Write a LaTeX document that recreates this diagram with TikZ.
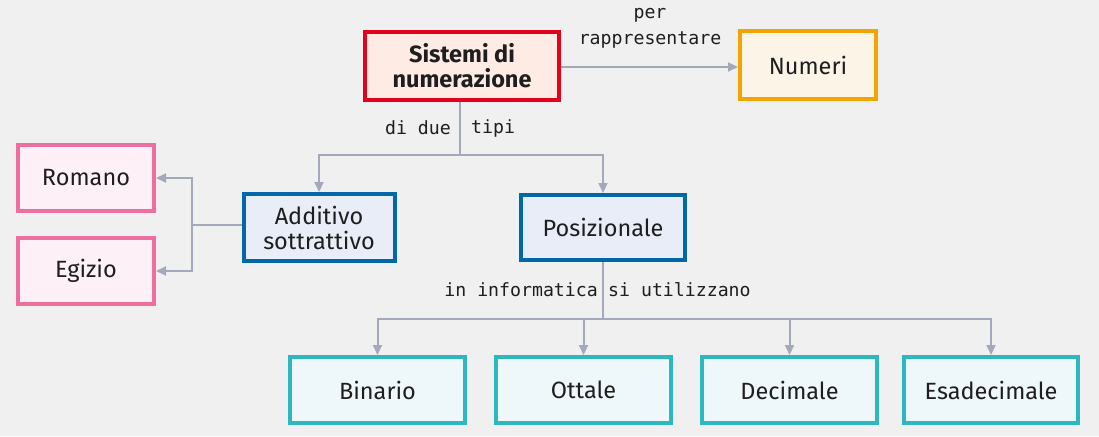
\documentclass[tikz,border=0pt]{standalone}
\usepackage{fontspec}
\setmainfont{Fira Sans}
\newfontfamily\lblfont{DejaVu Sans Mono}
\usetikzlibrary{arrows.meta}
\definecolor{bgc}{HTML}{F0F0F0}
\definecolor{redb}{HTML}{E3001B}\definecolor{redf}{HTML}{FDEBE4}
\definecolor{orab}{HTML}{F2A400}\definecolor{oraf}{HTML}{FDF4E8}
\definecolor{pinkb}{HTML}{EE6EA0}\definecolor{pinkf}{HTML}{FDF0F6}
\definecolor{blueb}{HTML}{0068A8}\definecolor{bluef}{HTML}{E8EDF8}
\definecolor{tealb}{HTML}{2CB7C1}\definecolor{tealf}{HTML}{EEF7F9}
\definecolor{connc}{HTML}{A3A9BA}
\definecolor{txtc}{HTML}{1E1E1E}
\tikzset{
  box/.style={draw, line width=4pt, align=center, text=txtc, font=\fontsize{23.5}{25}\selectfont, inner sep=0pt},
  redbox/.style={box, draw=redb, fill=redf, font=\fontsize{23.5}{25}\selectfont\bfseries},
  orabox/.style={box, draw=orab, fill=oraf},
  pinkbox/.style={box, draw=pinkb, fill=pinkf},
  bluebox/.style={box, draw=blueb, fill=bluef},
  tealbox/.style={box, draw=tealb, fill=tealf},
  conn/.style={draw=connc, line width=2pt},
  arr/.style={conn, -{Triangle[length=10pt,width=9pt]}},
  lbl/.style={text=txtc, font=\lblfont\fontsize{18.2}{20}\selectfont, inner sep=0pt}
}
\begin{document}
\begin{tikzpicture}[x=1pt,y=-1pt]
\fill[bgc] (0,0) rectangle (1099,436);
\useasboundingbox (0,0) rectangle (1099,436);

\node[redbox, minimum width=194pt, minimum height=67pt] (sist) at (462,66) {Sistemi di\\numerazione};
\node[orabox, minimum width=136pt, minimum height=68pt] (num) at (808,65) {Numeri};
\node[pinkbox, minimum width=136pt, minimum height=66pt] (rom) at (86,178) {Romano};
\node[pinkbox, minimum width=136pt, minimum height=66pt] (egi) at (86,271) {Egizio};
\node[bluebox, minimum width=151pt, minimum height=67pt] (add) at (319,227.5) {Additivo\\sottrattivo};
\node[bluebox, minimum width=164pt, minimum height=65pt] (pos) at (603,227.5) {Posizionale};
\node[tealbox, minimum width=175pt, minimum height=66pt] (bin) at (377.5,390) {Binario};
\node[tealbox, minimum width=175pt, minimum height=66pt] (ott) at (583.5,390) {Ottale};
\node[tealbox, minimum width=175pt, minimum height=66pt] (dec) at (789.5,390) {Decimale};
\node[tealbox, minimum width=174pt, minimum height=66pt] (esa) at (991,390) {Esadecimale};

\coordinate (j1) at (460,155);
\coordinate (j2) at (192,225);
\coordinate (j3) at (603,319);

\draw[arr] (sist.east |- 0,67) -- (num.west |- 0,67);
\draw[conn] (sist.south -| j1) -- (j1);
\draw[arr] (j1) -| (add.north);
\draw[arr] (j1) -| (pos.north);
\draw[conn] (add.west |- j2) -- (j2);
\draw[arr] (j2) |- (rom.east);
\draw[arr] (j2) |- (egi.east);
\draw[conn] (pos.south) -- (j3);
\draw[arr] (j3) -| (bin.north);
\draw[arr] (j3) -| (ott.north);
\draw[arr] (j3) -| (dec.north);
\draw[arr] (j3) -| (esa.north);

\node[lbl] (l1) at (650,15) {per};
\node[lbl] (l2) at (650,40) {rappresentare};
\node[lbl, anchor=east] (l3) at (451,128) {di due};
\node[lbl, anchor=west] (l4) at (471,128) {tipi};
\node[lbl, anchor=east] (l5) at (598,290) {in informatica};
\node[lbl, anchor=west] (l6) at (608,290) {si utilizzano};
\end{tikzpicture}
\end{document}
